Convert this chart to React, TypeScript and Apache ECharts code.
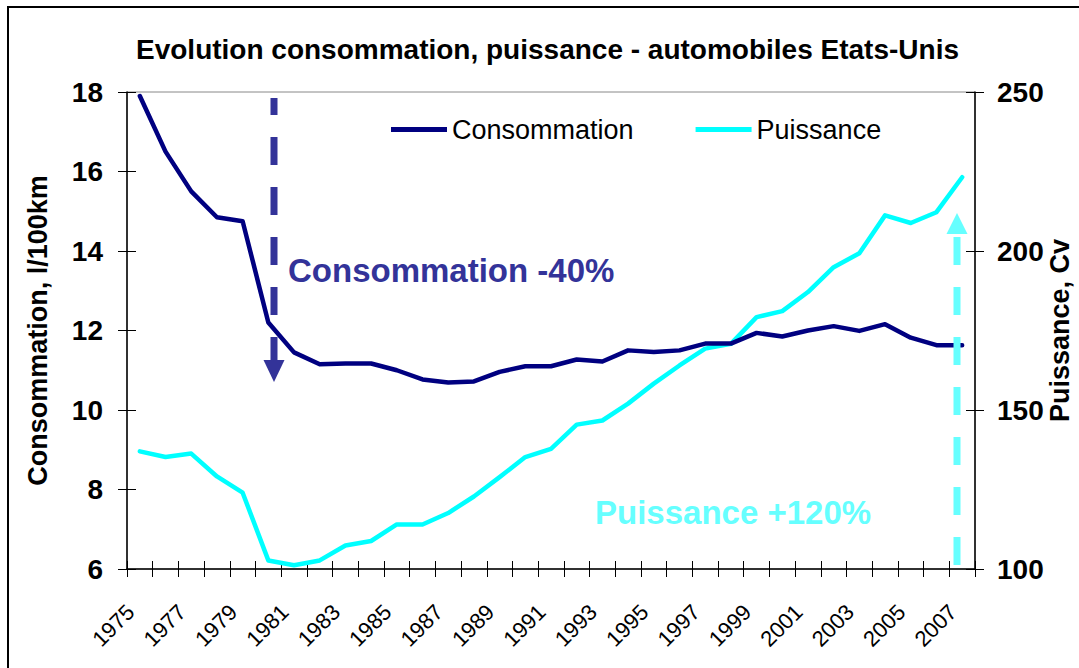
import React, { useEffect, useRef } from "react";
import * as echarts from "echarts";

const years = [
  "1975", "1976", "1977", "1978", "1979", "1980", "1981", "1982", "1983", "1984", "1985",
  "1986", "1987", "1988", "1989", "1990", "1991", "1992", "1993", "1994", "1995", "1996",
  "1997", "1998", "1999", "2000", "2001", "2002", "2003", "2004", "2005", "2006", "2007",
];

const consommation = [
  17.9, 16.5, 15.5, 14.85, 14.75, 12.2, 11.45, 11.15, 11.17, 11.17, 11.0,
  10.77, 10.69, 10.72, 10.96, 11.1, 11.1, 11.27, 11.22, 11.5, 11.46, 11.5,
  11.67, 11.67, 11.94, 11.85, 12.0, 12.11, 11.99, 12.16, 11.82, 11.63, 11.63,
];

const puissance = [
  137.0, 135.2, 136.3, 129.1, 124.0, 102.7, 101.2, 102.7, 107.4, 108.8, 114.0,
  114.0, 117.6, 122.8, 128.9, 135.2, 137.8, 145.4, 146.7, 152.0, 158.3, 164.0,
  169.3, 170.8, 179.2, 181.1, 187.1, 194.9, 199.3, 211.2, 208.8, 212.2, 223.2,
];

const seriesNames = ["Consommation", "Puissance"];
const titleText = "Evolution consommation, puissance - automobiles Etats-Unis";
const leftAxisName = "Consommation, l/100km";
const rightAxisName = "Puissance, Cv";
const noteConso = "Consommation -40%";
const notePuiss = "Puissance +120%";

const FONT = "'Liberation Sans', Arial, sans-serif";

export default function App() {
  const ref = useRef<HTMLDivElement>(null);

  useEffect(() => {
    if (!ref.current) return;
    const chart = echarts.init(ref.current, null, { renderer: "svg" });

    const gridL = 127;
    const gridT = 92;
    const gridR = 975;
    const gridB = 569;

    const axisLineStyle = { color: "#000", width: 1.5 };

    chart.setOption({
      animation: false,
      backgroundColor: "#fff",
      textStyle: { fontFamily: FONT },
      title: {
        text: titleText,
        left: 131,
        top: 30,
        textStyle: { fontFamily: FONT, fontWeight: "bold", fontSize: 28, color: "#000" },
      },
      legend: {
        data: seriesNames,
        left: 386,
        top: 111,
        icon: "rect",
        itemWidth: 56,
        itemHeight: 5,
        itemGap: 62,
        textStyle: { fontFamily: FONT, fontSize: 27, color: "#000" },
      },
      grid: {
        left: gridL,
        top: gridT,
        right: 1079 - gridR,
        bottom: 668 - gridB,
        show: true,
        borderColor: "#888",
        borderWidth: 1,
        containLabel: false,
        outerBoundsMode: "none",
      },
      xAxis: [
        {
          type: "category",
          data: years,
          boundaryGap: true,
          position: "bottom",
          axisLine: { show: true, lineStyle: axisLineStyle },
          axisTick: { show: true, length: 8, interval: 0, lineStyle: { color: "#000" } },
          axisLabel: {
            interval: 1,
            rotate: 45,
            margin: 30,
            padding: [0, 13, 0, 0],
            fontFamily: FONT,
            fontSize: 22,
            color: "#000",
          },
          splitLine: { show: false },
        },
        {
          type: "category",
          data: years,
          boundaryGap: true,
          position: "bottom",
          axisLine: { show: false },
          axisTick: { show: true, inside: true, length: 8, interval: 0, lineStyle: { color: "#000" } },
          axisLabel: { show: false },
          splitLine: { show: false },
        },
      ],
      yAxis: [
        {
          type: "value",
          position: "left",
          min: 6,
          max: 18,
          interval: 2,
          name: leftAxisName,
          nameLocation: "middle",
          nameRotate: 90,
          nameGap: 76,
          nameMoveOverlap: false,
          nameTextStyle: { fontFamily: FONT, fontWeight: "bold", fontSize: 27, color: "#000" },
          axisLine: { show: true, lineStyle: axisLineStyle },
          axisTick: { show: true, length: 9, lineStyle: { color: "#000" } },
          axisLabel: { margin: 24, fontFamily: FONT, fontWeight: "bold", fontSize: 28, color: "#000" },
          splitLine: { show: false },
        },
        {
          type: "value",
          position: "right",
          min: 100,
          max: 250,
          interval: 50,
          name: rightAxisName,
          nameLocation: "middle",
          nameRotate: 90,
          nameGap: 71,
          nameMoveOverlap: false,
          nameTextStyle: { fontFamily: FONT, fontWeight: "bold", fontSize: 27, color: "#000" },
          axisLine: { show: true, lineStyle: axisLineStyle },
          axisTick: { show: true, length: 9, lineStyle: { color: "#000" } },
          axisLabel: { margin: 22, fontFamily: FONT, fontWeight: "bold", fontSize: 28, color: "#000" },
          splitLine: { show: false },
        },
        {
          type: "value",
          position: "left",
          min: 6,
          max: 18,
          interval: 2,
          axisLine: { show: false },
          axisTick: { show: true, inside: true, length: 9, lineStyle: { color: "#000" } },
          axisLabel: { show: false },
          splitLine: { show: false },
        },
        {
          type: "value",
          position: "right",
          min: 100,
          max: 250,
          interval: 50,
          axisLine: { show: false },
          axisTick: { show: true, inside: true, length: 9, lineStyle: { color: "#000" } },
          axisLabel: { show: false },
          splitLine: { show: false },
        },
      ],
      series: [
        {
          name: seriesNames[0],
          type: "line",
          xAxisIndex: 0,
          yAxisIndex: 0,
          data: consommation,
          symbol: "none",
          smooth: false,
          color: "#000080",
          lineStyle: { color: "#000080", width: 4.5, cap: "round", join: "round" },
          z: 5,
        },
        {
          name: seriesNames[1],
          type: "line",
          xAxisIndex: 0,
          yAxisIndex: 1,
          data: puissance,
          symbol: "none",
          smooth: false,
          color: "#00FFFF",
          lineStyle: { color: "#00FFFF", width: 4.5, cap: "round", join: "round" },
          z: 4,
        },
      ],
      graphic: [
        {
          type: "rect",
          silent: true,
          shape: { x: 8, y: 7, width: 1200, height: 800 },
          style: { fill: "none", stroke: "#000", lineWidth: 2 },
          z: 0,
        },
        {
          type: "line",
          silent: true,
          shape: { x1: 274, y1: 98, x2: 274, y2: 361 },
          style: { stroke: "#333399", lineWidth: 7, lineDash: [28, 22], lineDashOffset: 11 },
          z: 10,
        },
        {
          type: "polygon",
          silent: true,
          shape: { points: [[263.5, 360], [284.5, 360], [274, 382]] },
          style: { fill: "#333399" },
          z: 10,
        },
        {
          type: "text",
          silent: true,
          x: 288,
          y: 270,
          style: {
            text: noteConso,
            font: "bold 33px " + FONT,
            fill: "#333399",
            verticalAlign: "middle",
          },
          z: 10,
        },
        {
          type: "line",
          silent: true,
          shape: { x1: 957, y1: 565, x2: 957, y2: 233 },
          style: { stroke: "#66FFFF", lineWidth: 7, lineDash: [28, 22] },
          z: 10,
        },
        {
          type: "polygon",
          silent: true,
          shape: { points: [[946.5, 234], [967.5, 234], [957, 213]] },
          style: { fill: "#66FFFF" },
          z: 10,
        },
        {
          type: "text",
          silent: true,
          x: 595,
          y: 512,
          style: {
            text: notePuiss,
            font: "bold 33px " + FONT,
            fill: "#66FFFF",
            verticalAlign: "middle",
          },
          z: 10,
        },
      ],
    });

    return () => chart.dispose();
  }, []);

  return (
    <div
      ref={ref}
      style={{ position: "fixed", left: 0, top: 0, width: 1079, height: 668, background: "#fff" }}
    />
  );
}
